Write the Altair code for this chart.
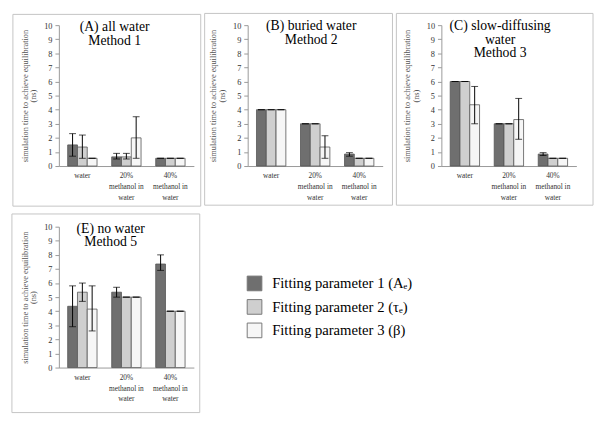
import altair as alt
import pandas as pd

CATS = ["water", "20% methanol in water", "40% methanol in water"]
SERIES = ["Fitting parameter 1 (Aₑ)", "Fitting parameter 2 (τₑ)", "Fitting parameter 3 (β)"]
COLORS = ["#6f6f6f", "#cfcfcf", "#f6f6f6"]

# Panel A
a_val = [[1.5, 0.65, 0.55], [1.35, 0.65, 0.55], [0.55, 2.0, 0.55]]
a_lo = [[0.7, 0.5, 0.55], [0.55, 0.5, 0.55], [0.55, 0.55, 0.55]]
a_hi = [[2.3, 0.9, 0.55], [2.2, 0.9, 0.55], [0.55, 3.5, 0.55]]
# Panel B
b_val = [[4.0, 3.0, 0.85], [4.0, 3.0, 0.55], [4.0, 1.35, 0.55]]
b_lo = [[4.0, 3.0, 0.7], [4.0, 3.0, 0.55], [4.0, 0.55, 0.55]]
b_hi = [[4.0, 3.0, 0.95], [4.0, 3.0, 0.55], [4.0, 2.15, 0.55]]
# Panel C
c_val = [[6.0, 3.0, 0.85], [6.0, 3.0, 0.55], [4.35, 3.3, 0.55]]
c_lo = [[6.0, 3.0, 0.75], [6.0, 3.0, 0.55], [3.0, 1.9, 0.55]]
c_hi = [[6.0, 3.0, 0.95], [6.0, 3.0, 0.55], [5.65, 4.8, 0.55]]
# Panel E
e_val = [[4.35, 5.35, 7.35], [5.35, 5.0, 4.0], [4.15, 5.0, 4.0]]
e_lo = [[2.9, 5.0, 6.9], [4.7, 5.0, 4.0], [2.6, 5.0, 4.0]]
e_hi = [[5.8, 5.7, 8.0], [6.0, 5.0, 4.0], [5.8, 5.0, 4.0]]

TITLE_A = ["(A) all water", "Method 1"]
TITLE_B = ["(B) buried water", "Method 2"]
TITLE_C = ["(C) slow-diffusing", "water", "Method 3"]
TITLE_E = ["(E) no water", "Method 5"]
Y_TICKS = list(range(0, 11))

SERIF = "Liberation Serif"
W, H = 138, 144


def make_df(val, lo, hi):
    rows = []
    for si, s in enumerate(SERIES):
        for ci, c in enumerate(CATS):
            rows.append({"cat": c, "series": s, "val": val[si][ci],
                         "lo": lo[si][ci], "hi": hi[si][ci]})
    return pd.DataFrame(rows)


label_expr = ("datum.value == 'water' ? ['water'] : "
              "[substring(datum.value, 0, 3), 'methanol in', 'water']")

y_axis = alt.Axis(values=Y_TICKS, tickCount=20, format="d", labelOverlap=False,
                  grid=False, tickSize=4, tickColor="#999", domainColor="#999",
                  labelFont=SERIF, labelFontSize=8.5, labelColor="#333",
                  labelPadding=3,
                  title=["simulation time to achieve equilibration", "(ns)"],
                  titleFont=SERIF, titleFontSize=8.5, titleFontWeight="normal",
                  titleColor="#555", titleLineHeight=9, titlePadding=6)

legend = alt.Legend(orient="none", legendX=192, legendY=256,
                    title=None, symbolType="square",
                    symbolSize=225, symbolStrokeColor="#777",
                    symbolStrokeWidth=1, symbolOpacity=1,
                    labelFont=SERIF, labelFontSize=15,
                    labelColor="black", rowPadding=4,
                    labelOffset=10, labelLimit=300)


def panel(val, lo, hi, title_lines, dx, ty, frame):
    df = make_df(val, lo, hi)
    base = alt.Chart(df)
    x = alt.X("cat:N", sort=CATS, title=None,
              scale=alt.Scale(paddingInner=0.333, paddingOuter=0.2),
              axis=alt.Axis(labelExpr=label_expr, labelAngle=0, ticks=False,
                            labelFont=SERIF, labelFontSize=7.5, labelColor="#333",
                            labelLineHeight=11, labelPadding=6, domainColor="#999",
                            labelBaseline="top"))
    xo = alt.XOffset("series:N", sort=SERIES,
                     scale=alt.Scale(paddingInner=0, paddingOuter=0))
    y_scale = alt.Scale(domain=[0, 10])
    bars = base.mark_bar(stroke="#555", strokeWidth=0.8).encode(
        x=x, xOffset=xo,
        y=alt.Y("val:Q", scale=y_scale, axis=y_axis),
        color=alt.Color("series:N", sort=SERIES,
                        scale=alt.Scale(domain=SERIES, range=COLORS),
                        legend=legend),
    )
    rules = base.mark_rule(color="black", strokeWidth=1).encode(
        x=x, xOffset=xo, y=alt.Y("lo:Q", scale=y_scale, axis=y_axis), y2="hi:Q")
    cap_lo = base.mark_tick(color="black", size=7, thickness=1).encode(
        x=x, xOffset=xo, y=alt.Y("lo:Q", scale=y_scale, axis=y_axis))
    cap_hi = base.mark_tick(color="black", size=7, thickness=1).encode(
        x=x, xOffset=xo, y=alt.Y("hi:Q", scale=y_scale, axis=y_axis))
    one = pd.DataFrame({"k": [0]})
    fx0, fx1, fy0, fy1 = frame
    box = alt.Chart(one).mark_rect(
        filled=False, stroke="#c4c4c4", strokeWidth=1).encode(
        x=alt.value(fx0), x2=alt.value(fx1), y=alt.value(fy0), y2=alt.value(fy1))
    title = alt.Chart(one).mark_text(
        text=title_lines, font=SERIF, fontSize=14, color="black",
        lineHeight=14, align="center", baseline="top").encode(
        x=alt.value(W / 2 + dx), y=alt.value(ty))
    return alt.layer(box, bars, rules, cap_lo, cap_hi, title).properties(
        width=W, height=H)


pA = panel(a_val, a_lo, a_hi, TITLE_A, -12, -5, (-47, 145, -11, 185))
pB = panel(b_val, b_lo, b_hi, TITLE_B, -4, -6, (-44, 148, -12, 184))
pC = panel(c_val, c_lo, c_hi, TITLE_C, -9, -6, (-46, 155, -12, 184))
pE = panel(e_val, e_lo, e_hi, TITLE_E, -16, -5, (-48, 144, -13, 190))

top = alt.hconcat(pA, pB, pC, spacing=2)
chart = alt.vconcat(top, pE, spacing=6).properties(
    padding={"left": 3, "top": 0, "right": 0, "bottom": 0}
).configure_view(strokeWidth=0)

chart.save("out.html", embed_options={"renderer": "svg", "actions": False})
